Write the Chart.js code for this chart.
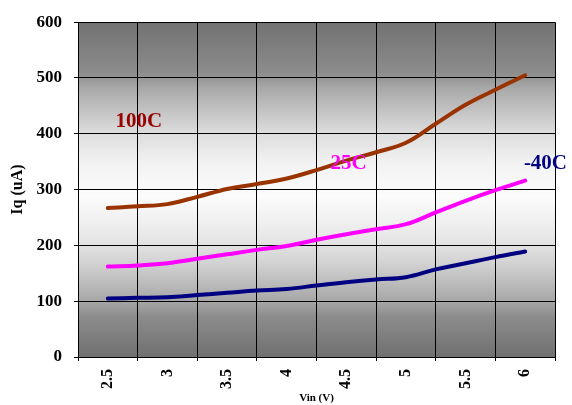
<!DOCTYPE html>
<html>
<head>
<meta charset="utf-8">
<script src="https://cdn.jsdelivr.net/npm/chart.js@4"></script>
<style>
  html, body { margin: 0; padding: 0; background: #fff; }
  #wrap { width: 572px; height: 405px; }
</style>
</head>
<body>
<div id="wrap"><canvas id="iqChart"></canvas></div>
<script>
// Vin (V) sample points and Iq (uA) per temperature
const vin = [2.5, 2.75, 3, 3.25, 3.5, 3.75, 4, 4.25, 4.5, 4.75, 5, 5.25, 5.5, 5.75, 6];
const iq100 = [267, 270, 274, 287, 301, 310, 320, 335, 352, 367, 384, 418, 452, 479, 505];
const iq25 = [162, 164, 168, 176, 184, 192, 199, 210, 220, 229, 238, 259, 280, 299, 316];
const iqM40 = [105, 106, 107, 111, 115, 119, 122, 128, 134, 139, 143, 157, 168, 179, 189];
const xTicks = [2.5, 3, 3.5, 4, 4.5, 5, 5.5, 6];

// in-plot series labels, placed in data units
const seriesLabels = [
  { text: "100C", x: 2.76, y: 422, color: "#990000" },
  { text: "25C", x: 4.52, y: 347, color: "#ff00ff" },
  { text: "-40C", x: 6.17, y: 347, color: "#000080" }
];

const serif = "'Liberation Serif', 'Times New Roman', serif";

const toPoints = ys => ys.map((y, i) => ({ x: vin[i], y }));

const plotBackground = {
  id: "plotBackground",
  beforeDraw(chart) {
    const { ctx, chartArea: a } = chart;
    const g = ctx.createLinearGradient(0, a.top, 0, a.bottom);
    g.addColorStop(0, "#727272");
    g.addColorStop(0.15, "#8c8c8c");
    g.addColorStop(0.2, "#aaaaaa");
    g.addColorStop(0.33, "#dcdcdc");
    g.addColorStop(0.42, "#f2f2f2");
    g.addColorStop(0.52, "#fcfcfc");
    g.addColorStop(0.64, "#e8e8e8");
    g.addColorStop(0.72, "#d2d2d2");
    g.addColorStop(0.83, "#a8a8a8");
    g.addColorStop(0.88, "#8c8c8c");
    g.addColorStop(1, "#707070");
    ctx.save();
    ctx.fillStyle = g;
    ctx.fillRect(a.left, a.top, a.right - a.left, a.bottom - a.top);
    ctx.restore();
  }
};

const lineLabels = {
  id: "lineLabels",
  afterDatasetsDraw(chart) {
    const { ctx, scales } = chart;
    ctx.save();
    ctx.font = "bold 21px " + serif;
    ctx.textAlign = "center";
    ctx.textBaseline = "middle";
    seriesLabels.forEach(l => {
      ctx.fillStyle = l.color;
      ctx.fillText(l.text, scales.x.getPixelForValue(l.x), scales.y.getPixelForValue(l.y));
    });
    ctx.restore();
  }
};

const mkSet = (label, ys, color) => ({
  label,
  data: toPoints(ys),
  borderColor: color,
  borderWidth: 4,
  borderCapStyle: "round",
  pointRadius: 0,
  tension: 0.4,
  fill: false
});

new Chart(document.getElementById("iqChart"), {
  type: "line",
  data: {
    datasets: [
      mkSet("100C", iq100, "#993300"),
      mkSet("25C", iq25, "#ff00ff"),
      mkSet("-40C", iqM40, "#000080")
    ]
  },
  options: {
    responsive: true,
    maintainAspectRatio: false,
    animation: false,
    layout: { padding: { top: 20, right: 17, left: 0, bottom: 0 } },
    plugins: { legend: { display: false }, tooltip: { enabled: false } },
    scales: {
      x: {
        type: "linear",
        min: 2.25,
        max: 6.25,
        afterBuildTicks: scale => { scale.ticks = xTicks.map(v => ({ value: v })); },
        afterFit: scale => { scale.height = 48; },
        grid: { color: "#000", offset: true, tickLength: 4, lineWidth: 1 },
        border: { color: "#000", width: 1 },
        ticks: {
          minRotation: 90,
          maxRotation: 90,
          padding: 8,
          color: "#000",
          font: { family: serif, size: 16, weight: "bold" },
          callback: v => String(v)
        },
        title: {
          display: true,
          text: "Vin (V)",
          color: "#000",
          padding: { top: 0, bottom: 0 },
          font: { family: serif, size: 11, weight: "bold" }
        }
      },
      y: {
        min: 0,
        max: 600,
        afterFit: scale => { scale.width = 78; },
        grid: { color: "#000", tickLength: 4, lineWidth: 1 },
        border: { color: "#000", width: 1 },
        ticks: {
          stepSize: 100,
          padding: 12,
          color: "#000",
          font: { family: serif, size: 17, weight: "bold" }
        },
        title: {
          display: true,
          text: "Iq (uA)",
          color: "#000",
          padding: { top: 8, bottom: 0 },
          font: { family: serif, size: 16, weight: "bold" }
        }
      }
    }
  },
  plugins: [plotBackground, lineLabels]
});
</script>
</body>
</html>
